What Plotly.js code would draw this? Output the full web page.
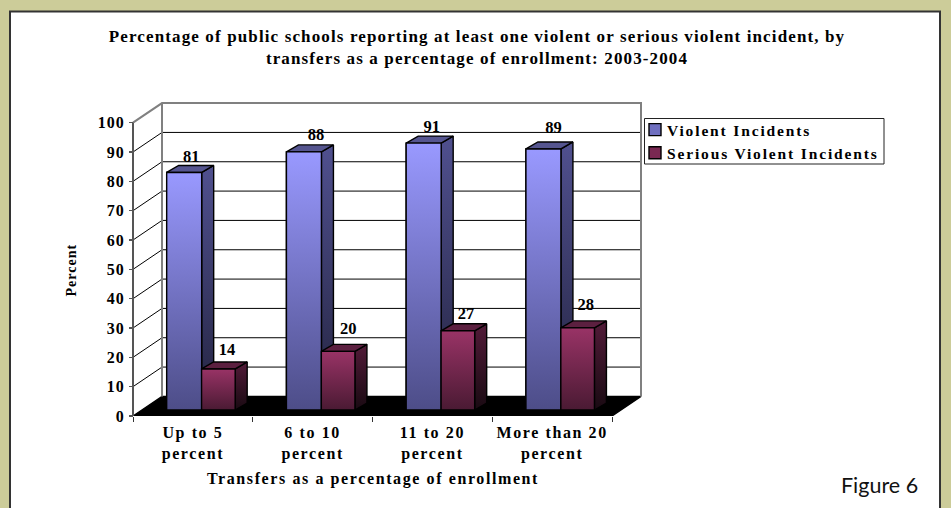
<!DOCTYPE html>
<html>
<head>
<meta charset="utf-8">
<script src="https://cdn.plot.ly/plotly-3.0.1.min.js"></script>
<style>
  html, body { margin: 0; padding: 0; background: #cccc99; }
  .gtitle { letter-spacing: 1.13px; }
  .xtick text { letter-spacing: 1.6px; }
  .xtitle { letter-spacing: 1.6px; }
  .ytick text { letter-spacing: 1px; }
  .legendtext { letter-spacing: 1.85px; }
  .legendpoints path { translate: 8px 0; }
  .annotation[data-index="0"] text { letter-spacing: 1px; }
</style>
</head>
<body>
<div id="chart" style="width:951px;height:508px"></div>
<script>
// Chart data
const categories = ['Up to 5<br>percent', '6 to 10<br>percent', '11 to 20<br>percent', 'More than 20<br>percent'];
const violent = [81, 88, 91, 89];
const serious = [14, 20, 27, 28];
const seriesNames = ['Violent Incidents', 'Serious Violent Incidents'];
const yTicks = [0, 10, 20, 30, 40, 50, 60, 70, 80, 90, 100];

// Page geometry in pixels
const W = 951, H = 508;
const frontLeft = 133, frontRight = 612, frontBottom = 416, frontTop = 122.7;
const plotLeft = 100, plotRight = 646, plotTop = 98;
const pxPerCat = (frontRight - frontLeft) / 4;
const pxPerUnit = (frontBottom - frontTop) / 100;
const xUnits = px => px / pxPerCat;
const yUnits = px => px / pxPerUnit;

// Pseudo-3D projection, expressed in axis units
const wallDx = xUnits(29), wallDy = yUnits(19.6);
const barDx = xUnits(12), barDy = yUnits(7);
const barBase = yUnits(6);
const xLeft = -0.5, xRight = 3.5;

const blue = {
  offset: xUnits(-26.2), width: xUnits(35), swatch: '#6f6fc0',
  front: ['#4d4d88', '#9999ff'], side: ['#23233f', '#50508f'], roof: '#55558f',
  nudgeX: [7, 12, 8, 10].map(xUnits), nudgeY: [15, 16.5, 15.5, 20].map(yUnits)
};
const red = {
  offset: xUnits(8.7), width: xUnits(33.6), swatch: '#7a2852',
  front: ['#4a1a33', '#993366'], side: ['#190a12', '#521b38'], roof: '#5c2040',
  nudgeX: [8.5, 10, 8, 8].map(xUnits), nudgeY: [18, 21.5, 16, 22].map(yUnits)
};

const traces = [];

function polygon(xs, ys, fill) {
  const t = {
    type: 'scatter', mode: 'lines', x: [...xs, xs[0]], y: [...ys, ys[0]],
    fill: 'toself', line: {color: '#000', width: 1.4}, showlegend: false, hoverinfo: 'skip'
  };
  if (Array.isArray(fill)) {
    t.fillgradient = {type: 'vertical', colorscale: [[0, fill[0]], [1, fill[1]]]};
  } else {
    t.fillcolor = fill;
  }
  return t;
}

// Real bars carry the values and the legend entries
[[violent, blue, seriesNames[0]], [serious, red, seriesNames[1]]].forEach(([vals, s, name]) => {
  traces.push({
    type: 'bar', name: name, x: vals.map((_, i) => i), y: vals, base: barBase,
    offset: s.offset, width: s.width, hoverinfo: 'skip',
    marker: {color: s.swatch, line: {color: '#000', width: 1.4}}
  });
});

// Floor
traces.push(polygon(
  [xLeft, xRight, xRight + wallDx, xLeft + wallDx],
  [0, 0, wallDy, wallDy], '#000'));

// Back wall gridlines and their continuation down the side wall
const gridX = [], gridY = [];
yTicks.slice(1, -1).forEach(v => {
  gridX.push(xLeft, xLeft + wallDx, xRight + wallDx, null);
  gridY.push(v, v + wallDy, v + wallDy, null);
});
traces.push({type: 'scatter', mode: 'lines', x: gridX, y: gridY,
  line: {color: '#000', width: 1}, showlegend: false, hoverinfo: 'skip'});

// Wall frame
const wallTop = yTicks[yTicks.length - 1];
traces.push({type: 'scatter', mode: 'lines',
  x: [xLeft, xLeft + wallDx, xRight + wallDx, xRight + wallDx, null, xLeft + wallDx, xLeft + wallDx],
  y: [wallTop, wallTop + wallDy, wallTop + wallDy, wallDy, null, wallTop + wallDy, wallDy],
  line: {color: '#808080', width: 2}, showlegend: false, hoverinfo: 'skip'});

// Front edge of the value axis
traces.push({type: 'scatter', mode: 'lines', x: [xLeft, xLeft], y: [0, wallTop],
  line: {color: '#555', width: 2}, showlegend: false, hoverinfo: 'skip'});

// Shaded faces of each column, blue first so the red column sits in front
categories.forEach((_, i) => {
  [[violent, blue], [serious, red]].forEach(([vals, s]) => {
    const l = i + s.offset, r = l + s.width, y0 = barBase, y1 = barBase + vals[i];
    traces.push(polygon([r, r + barDx, r + barDx, r], [y0, y0 + barDy, y1 + barDy, y1], s.side));
    traces.push(polygon([l, r, r + barDx, l + barDx], [y1, y1, y1 + barDy, y1 + barDy], s.roof));
    traces.push(polygon([l, r, r, l], [y0, y0, y1, y1], s.front));
  });
});

// Value labels above the columns
[[violent, blue], [serious, red]].forEach(([vals, s]) => {
  traces.push({
    type: 'scatter', mode: 'text', cliponaxis: false, showlegend: false, hoverinfo: 'skip',
    x: vals.map((_, i) => i + s.offset + s.width / 2 + s.nudgeX[i]),
    y: vals.map((v, i) => barBase + v + s.nudgeY[i]),
    text: vals.map(String), textposition: 'middle center',
    textfont: {family: 'Liberation Serif', size: 16.5, weight: 700, color: '#000'}
  });
});

const serif = {family: 'Liberation Serif', weight: 700, color: '#000'};
const layout = {
  width: W, height: H,
  margin: {l: 0, r: 0, t: 0, b: 0, pad: 0},
  paper_bgcolor: '#cccc99', plot_bgcolor: 'rgba(0,0,0,0)',
  showlegend: true,
  title: {
    text: 'Percentage of public schools reporting at least one violent or serious violent incident, by<br>transfers as a percentage of enrollment: 2003-2004',
    font: {...serif, size: 17}, x: 477 / W, xanchor: 'center', y: 1 - 42 / H, yanchor: 'top',
    pad: {t: 0, b: 0, l: 0, r: 0}
  },
  xaxis: {
    domain: [plotLeft / W, plotRight / W],
    range: [xLeft + xUnits(plotLeft - frontLeft), xRight + xUnits(plotRight - frontRight)],
    tickmode: 'array', tickvals: categories.map((_, i) => i), ticktext: categories,
    ticks: '', showgrid: false, zeroline: false, showline: false,
    ticklabelstandoff: 5,
    tickfont: {...serif, size: 16},
    minor: {tickmode: 'array', tickvals: [-0.5, 0.5, 1.5, 2.5, 3.5], ticks: 'outside', ticklen: 5,
      tickcolor: '#333', tickwidth: 1, showgrid: false},
    title: {text: 'Transfers as a percentage of enrollment', font: {...serif, size: 16}, standoff: 11},
    fixedrange: true
  },
  yaxis: {
    domain: [(H - frontBottom) / H, (H - plotTop) / H],
    range: [0, yUnits(frontBottom - plotTop)],
    anchor: 'free', position: frontLeft / W,
    tickmode: 'array', tickvals: yTicks, ticks: 'outside', ticklen: 4, tickcolor: '#555', tickwidth: 1.5,
    showgrid: false, zeroline: false, showline: false,
    ticklabelstandoff: 1,
    tickfont: {...serif, size: 16},
    fixedrange: true
  },
  legend: {
    x: 639 / W, xanchor: 'left', y: 1 - 113 / H, yanchor: 'top',
    bgcolor: 'rgba(0,0,0,0)', borderwidth: 0, itemclick: false, itemdoubleclick: false,
    traceorder: 'normal', indentation: -12, tracegroupgap: 0,
    font: {...serif, size: 15.5}
  },
  shapes: [
    {type: 'rect', xref: 'paper', yref: 'paper', layer: 'below',
      x0: 10 / W, x1: 940 / W, y0: -0.02, y1: 1 - 11.5 / H,
      fillcolor: '#fff', line: {color: '#333', width: 2}},
    {type: 'rect', xref: 'paper', yref: 'paper', layer: 'below',
      x0: 644.5 / W, x1: 884 / W, y0: 1 - 164 / H, y1: 1 - 118.5 / H,
      fillcolor: '#fff', line: {color: '#222', width: 1}}
  ],
  annotations: [{
    xref: 'paper', yref: 'paper', x: 71 / W, y: 1 - 270 / H, xanchor: 'center', yanchor: 'middle',
    text: 'Percent', textangle: -90, showarrow: false, font: {...serif, size: 14}
  }, {
    xref: 'paper', yref: 'paper', x: 879 / W, y: 1 - 485 / H, xanchor: 'center', yanchor: 'middle',
    text: 'Figure 6', showarrow: false, font: {family: 'Lato', size: 21.5, color: '#111'}
  }]
};

Plotly.newPlot('chart', traces, layout, {displayModeBar: false, staticPlot: true});
</script>
</body>
</html>
